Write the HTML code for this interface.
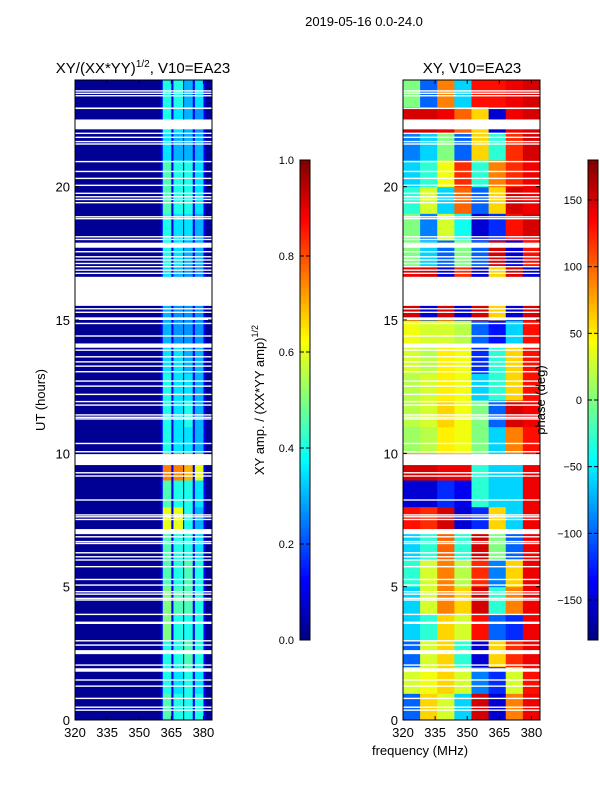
<!DOCTYPE html>
<html><head><meta charset="utf-8"><style>
html,body{margin:0;padding:0;background:#fff;}
svg text{font-family:"Liberation Sans",sans-serif;fill:#000;}
</style></head><body>
<svg id="fig" width="600" height="800" viewBox="0 0 600 800" xmlns="http://www.w3.org/2000/svg">
<text x="364" y="26" font-size="13" text-anchor="middle">2019-05-16 0.0-24.0</text>
<text x="143" y="73" font-size="15" text-anchor="middle">XY/(XX*YY)<tspan font-size="10" dy="-6">1/2</tspan><tspan dy="6">, V10=EA23</tspan></text>
<text x="472" y="73" font-size="15" text-anchor="middle">XY, V10=EA23</text>
<text transform="translate(45,400) rotate(-90)" font-size="13" text-anchor="middle">UT (hours)</text>
<text x="420" y="755" font-size="13" text-anchor="middle">frequency (MHz)</text>
<g id="left"></g>
<g id="right"></g>
<g id="cb1"></g>
<g id="cb2"></g>
<text transform="translate(264,400) rotate(-90)" font-size="13" text-anchor="middle">XY amp. / (XX*YY amp)<tspan font-size="9" dy="-6">1/2</tspan></text>
<text transform="translate(545,400) rotate(-90)" font-size="13" text-anchor="middle">phase (deg)</text>
</svg>
<script>
const freqTicks=[320,335,350,365,380];
const utTicks=[0,5,10,15,20];
const ampTicks=[0.0,0.2,0.4,0.6,0.8,1.0];
const phaseTicks=[-150,-100,-50,0,50,100,150];
const baseAmp=0.02;
const stripeGapAmp=0.12;
const stripeFreqs=[[361,365],[366,370.5],[371,375],[376,380]];
const stripeAmp=[
[0.45,0.4,0.4,0.4],[0.4,0.35,0.4,0.35],[0.4,0.4,0.45,0.4],[0.5,0.4,0.4,0.4],
[0.5,0.45,0.45,0.4],[0.45,0.4,0.45,0.4],[0.45,0.4,0.4,0.35],[0.6,0.6,0.4,0.3],
[0.45,0.4,0.4,0.35],[0.75,0.75,0.7,0.6],[0.4,0.35,0.35,0.3],[0.4,0.35,0.4,0.3],
[0.4,0.35,0.35,0.3],[0.35,0.35,0.3,0.3],[0.3,0.27,0.27,0.27],[0.3,0.27,0.27,0.27],
[0.35,0.3,0.27,0.27],[0.4,0.35,0.3,0.3],[0.4,0.35,0.35,0.3],[0.45,0.4,0.4,0.35],
[0.45,0.4,0.4,0.35],[0.35,0.3,0.3,0.3],[0.4,0.35,0.3,0.27],[0.4,0.4,0.3,0.35]];
const phase=[
[-100,60,30,-60,150,-150,90,140],[30,40,60,30,-90,-120,30,130],[-100,30,60,-30,-150,60,120,140],
[-60,-30,60,30,130,-100,-120,140],[-60,30,90,60,150,-30,90,140],[-30,30,90,20,120,-90,60,140],
[-60,-30,100,-30,150,0,-100,140],[130,120,150,-150,-120,60,-60,140],[-150,-150,-120,-140,-30,-60,-60,140],
[150,150,140,140,-30,-60,-60,140],[10,20,50,40,0,-60,90,130],[20,30,60,40,0,-100,150,140],
[20,30,50,40,-60,-30,60,130],[30,20,50,40,-120,-30,60,130],[40,30,30,20,-100,-130,-60,130],
[150,-150,150,-150,150,60,-150,150],[140,150,-150,120,-150,60,150,-150],[0,-60,-100,0,-100,150,-150,130],
[0,-90,30,-40,-150,-120,130,150],[-30,30,-60,100,-100,60,150,140],[-60,-30,40,120,-30,90,120,140],
[-90,-60,0,-100,60,-30,120,150],[150,150,140,100,60,-150,140,150],[0,-100,90,-60,130,130,140,150]];
const gapBig=[[22.15,22.52],[15.53,16.62],[17.71,17.9],[22.91,22.97],[13.96,14.12],[15.0,15.1],[9.56,9.97],[6.97,7.16],[3.6,3.69],[2.47,2.62],[1.81,1.94]];
const gapThin=[23.59,23.5,23.41,22.0,21.85,21.69,21.6,20.94,20.57,20.31,20.05,19.75,19.62,19.52,19.4,18.87,18.8,18.12,18.02,17.56,17.37,17.25,17.12,17.0,16.87,16.75,15.42,15.29,14.87,14.4,13.87,13.62,13.43,13.27,13.06,12.71,12.52,12.21,11.94,11.81,11.44,11.35,11.29,10.37,10.06,9.27,9.15,8.25,7.69,7.62,7.52,6.87,6.69,6.62,6.27,6.12,6.0,5.75,5.27,5.06,4.81,4.72,4.56,4.5,3.96,2.97,2.81,2.06,1.5,1.27,0.81,0.48,0.37];

const NS="http://www.w3.org/2000/svg";
function mk(p,t,a){const e=document.createElementNS(NS,t);for(const k in a)e.setAttribute(k,a[k]);p.appendChild(e);return e;}
function jet(v){v=Math.max(0,Math.min(1,v));
 const r=Math.max(0,Math.min(1,1.5-Math.abs(4*v-3))),g=Math.max(0,Math.min(1,1.5-Math.abs(4*v-2))),b=Math.max(0,Math.min(1,1.5-Math.abs(4*v-1)));
 return `rgb(${Math.round(r*255)},${Math.round(g*255)},${Math.round(b*255)})`;}
const Y0=720,Y1=80,FMIN=320,FMAX=384;
const yS=u=>Y0-(u/24)*(Y0-Y1);
function panel(gid,x0,x1,drawCells){
 const g=document.getElementById(gid);
 const xS=f=>x0+(f-FMIN)/(FMAX-FMIN)*(x1-x0);
 drawCells(g,xS);
 gapBig.forEach(r=>{const e=mk(g,'rect',{x:x0,y:yS(r[1]),width:x1-x0,height:yS(r[0])-yS(r[1]),fill:'#fff'});
  
  });
 gapThin.forEach(u=>{const e=mk(g,'rect',{x:x0,y:yS(u)-0.7,width:x1-x0,height:1.4,fill:'#fff'});
  
  });
 mk(g,'rect',{x:x0,y:Y1,width:x1-x0,height:Y0-Y1,fill:'none',stroke:'#000','stroke-width':1});
 freqTicks.forEach(f=>{const x=xS(f);mk(g,'line',{x1:x,x2:x,y1:Y0,y2:Y0-4,stroke:'#000'});mk(g,'line',{x1:x,x2:x,y1:Y1,y2:Y1+4,stroke:'#000'});
  const t=mk(g,'text',{x:x,y:Y0+17,'font-size':13,'text-anchor':'middle'});t.textContent=f;
  
  });
 utTicks.forEach(u=>{const y=yS(u);mk(g,'line',{x1:x0,x2:x0+4,y1:y,y2:y,stroke:'#000'});mk(g,'line',{x1:x1,x2:x1-4,y1:y,y2:y,stroke:'#000'});
  const t=mk(g,'text',{x:x0-5,y:y+5,'font-size':13,'text-anchor':'end'});t.textContent=u;
  
  });
}
panel('left',75,212,(g,xS)=>{
 mk(g,'rect',{x:xS(FMIN),y:Y1,width:xS(FMAX)-xS(FMIN),height:Y0-Y1,fill:jet(baseAmp)});
 mk(g,'rect',{x:xS(360),y:Y1,width:xS(381)-xS(360),height:Y0-Y1,fill:jet(stripeGapAmp)});
 stripeAmp.forEach((row,h)=>row.forEach((v,i)=>{
  const e=mk(g,'rect',{x:xS(stripeFreqs[i][0]),y:yS(h+1),width:xS(stripeFreqs[i][1])-xS(stripeFreqs[i][0]),height:yS(h)-yS(h+1)+0.5,fill:jet(v)});
  
  }));
});
panel('right',403,540,(g,xS)=>{
 const nb=phase[0].length,bw=(FMAX-FMIN)/nb;
 phase.forEach((row,h)=>row.forEach((v,i)=>{
  const e=mk(g,'rect',{x:xS(FMIN+i*bw),y:yS(h+1),width:xS(FMIN+(i+1)*bw)-xS(FMIN+i*bw)+0.5,height:yS(h)-yS(h+1)+0.5,fill:jet((v+180)/360)});
  
  }));
});
function colorbar(gid,x,vmin,vmax,ticks,fmt){
 const g=document.getElementById(gid),top=160,bot=640,w=10;
 const s=v=>bot-(v-vmin)/(vmax-vmin)*(bot-top);
 for(let i=0;i<120;i++){const v0=vmin+(vmax-vmin)*i/120,v1=vmin+(vmax-vmin)*(i+1)/120;
  mk(g,'rect',{x:x,y:s(v1),width:w,height:s(v0)-s(v1)+0.5,fill:jet((i+0.5)/120)});}
 mk(g,'rect',{x:x,y:top,width:w,height:bot-top,fill:'none',stroke:'#000'});
 ticks.forEach(v=>{const y=s(v);mk(g,'line',{x1:x,x2:x+4,y1:y,y2:y,stroke:'#000'});mk(g,'line',{x1:x+w,x2:x+w-4,y1:y,y2:y,stroke:'#000'});
  const t=mk(g,'text',{x:x-6,y:y+4,'font-size':11,'text-anchor':'end'});t.textContent=fmt(v);
  
  });
}
colorbar('cb1',300,0,1,ampTicks,v=>v.toFixed(1));
colorbar('cb2',588,-180,180,phaseTicks,v=>v<0?'\u2212'+(-v):String(v));
</script>
</body></html>
